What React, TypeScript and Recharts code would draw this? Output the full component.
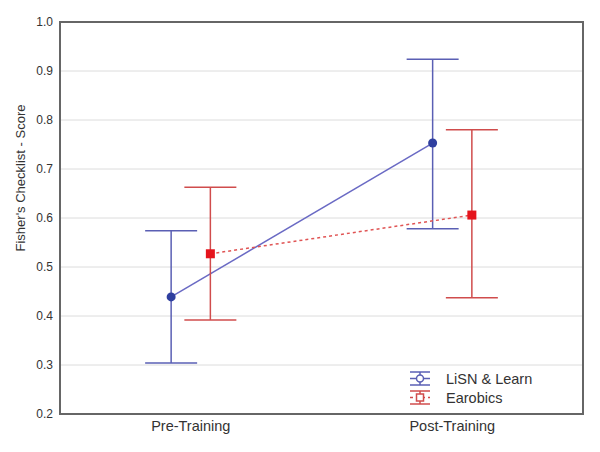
import {
  ComposedChart, Line, XAxis, YAxis, CartesianGrid, ErrorBar, ReferenceArea,
} from 'recharts'

const categories = ['Pre-Training', 'Post-Training']
const yTicks = [0.2, 0.3, 0.4, 0.5, 0.6, 0.7, 0.8, 0.9, 1.0]

const lisnMean = [0.439, 0.753]
const lisnLow = [0.304, 0.578]
const lisnHigh = [0.574, 0.924]

const earMean = [0.527, 0.606]
const earLow = [0.392, 0.437]
const earHigh = [0.663, 0.78]

// small side-by-side dodge so the two groups don't overlap
const DODGE = 0.075

const build = (mean: number[], low: number[], high: number[], shift: number) =>
  mean.map((m, i) => ({
    x: i + 0.5 + shift,
    y: m,
    err: [m - low[i], high[i] - m],
  }))

const lisnData = build(lisnMean, lisnLow, lisnHigh, -DODGE)
const earData = build(earMean, earLow, earHigh, DODGE)

const series = [
  { name: 'LiSN & Learn', bar: '#5a5fb4', dash: undefined, square: false },
  { name: 'Earobics', bar: '#d04c4c', dash: '3 3', square: true },
]

const CircleDot = (props: any) => {
  const { cx, cy } = props
  if (cx == null || cy == null) return null
  return <circle cx={cx} cy={cy} r={4.5} fill="#2f3f9f" />
}

const SquareDot = (props: any) => {
  const { cx, cy } = props
  if (cx == null || cy == null) return null
  return <rect x={cx - 4.5} y={cy - 4.5} width={9} height={9} fill="#e5141c" />
}

const LegendBox = () => (
  <div style={{ position: 'absolute', left: 400, top: 362, display: 'flex', flexDirection: 'column', gap: 2 }}>
    {series.map((s) => (
      <div key={s.name} style={{ display: 'flex', alignItems: 'center', height: 17 }}>
        <svg width={24} height={15} style={{ marginRight: 14 }}>
          <line x1={2} y1={1} x2={22} y2={1} stroke={s.bar} strokeWidth={1.5} />
          <line x1={12} y1={1} x2={12} y2={14} stroke={s.bar} strokeWidth={1.5} />
          <line x1={2} y1={7.5} x2={22} y2={7.5} stroke={s.bar} strokeWidth={1.5}
            strokeDasharray={s.dash} />
          <line x1={2} y1={14} x2={22} y2={14} stroke={s.bar} strokeWidth={1.5} />
          {s.square
            ? <rect x={8.5} y={4} width={7} height={7} fill="#fff" stroke={s.bar} strokeWidth={1.5} />
            : <circle cx={12} cy={7.5} r={3.5} fill="#fff" stroke={s.bar} strokeWidth={1.5} />}
        </svg>
        <span style={{ fontSize: 14.5, color: '#333' }}>{s.name}</span>
      </div>
    ))}
  </div>
)

export default function App() {
  return (
    <div style={{ position: 'relative', width: 592, height: 444, fontFamily: '"Liberation Sans", Arial, sans-serif' }}>
      <ComposedChart width={592} height={444} margin={{ top: 14, right: 17, bottom: 8, left: 0 }}>
        <CartesianGrid vertical={false} stroke="#dcdcdc" />
        <XAxis
          type="number"
          dataKey="x"
          domain={[0, 2]}
          ticks={[0.5, 1.5]}
          tickFormatter={(v: number) => categories[Math.round(v - 0.5)]}
          axisLine={false}
          tickLine={false}
          tickSize={0}
          tickMargin={7}
          height={30}
          tick={{ fontSize: 14.5, fill: '#333' }}
        />
        <YAxis
          type="number"
          domain={[0.2, 1.0]}
          ticks={yTicks}
          tickFormatter={(v: number) => v.toFixed(1)}
          axisLine={false}
          tickLine={false}
          tickSize={0}
          tickMargin={7}
          width={52}
          tick={{ fontSize: 12, fill: '#333' }}
          label={(p: any) => {
            const vb = p.viewBox || {}
            const x = (vb.x ?? 0) + 12
            const y = 170
            return (
              <text x={x} y={y} transform={`rotate(-90 ${x} ${y})`} textAnchor="middle"
                dominantBaseline="central" fontSize={13} fill="#333">
                Fisher's Checklist - Score
              </text>
            )
          }}
        />
        <ReferenceArea x1={0} x2={2} y1={0.2} y2={1.0} fill="none" stroke="#666" strokeWidth={2}
          ifOverflow="visible" />
        <Line data={lisnData} dataKey="y" stroke="#6a6ac4" strokeWidth={1.5}
          dot={<CircleDot />} activeDot={false} isAnimationActive={false}>
          <ErrorBar dataKey="err" direction="y" width={26} stroke="#5a5fb4" strokeWidth={1.5} />
        </Line>
        <Line data={earData} dataKey="y" stroke="#e05454" strokeWidth={1.5} strokeDasharray="3 3"
          dot={<SquareDot />} activeDot={false} isAnimationActive={false}>
          <ErrorBar dataKey="err" direction="y" width={26} stroke="#d04c4c" strokeWidth={1.5} />
        </Line>
      </ComposedChart>
      <LegendBox />
    </div>
  )
}
